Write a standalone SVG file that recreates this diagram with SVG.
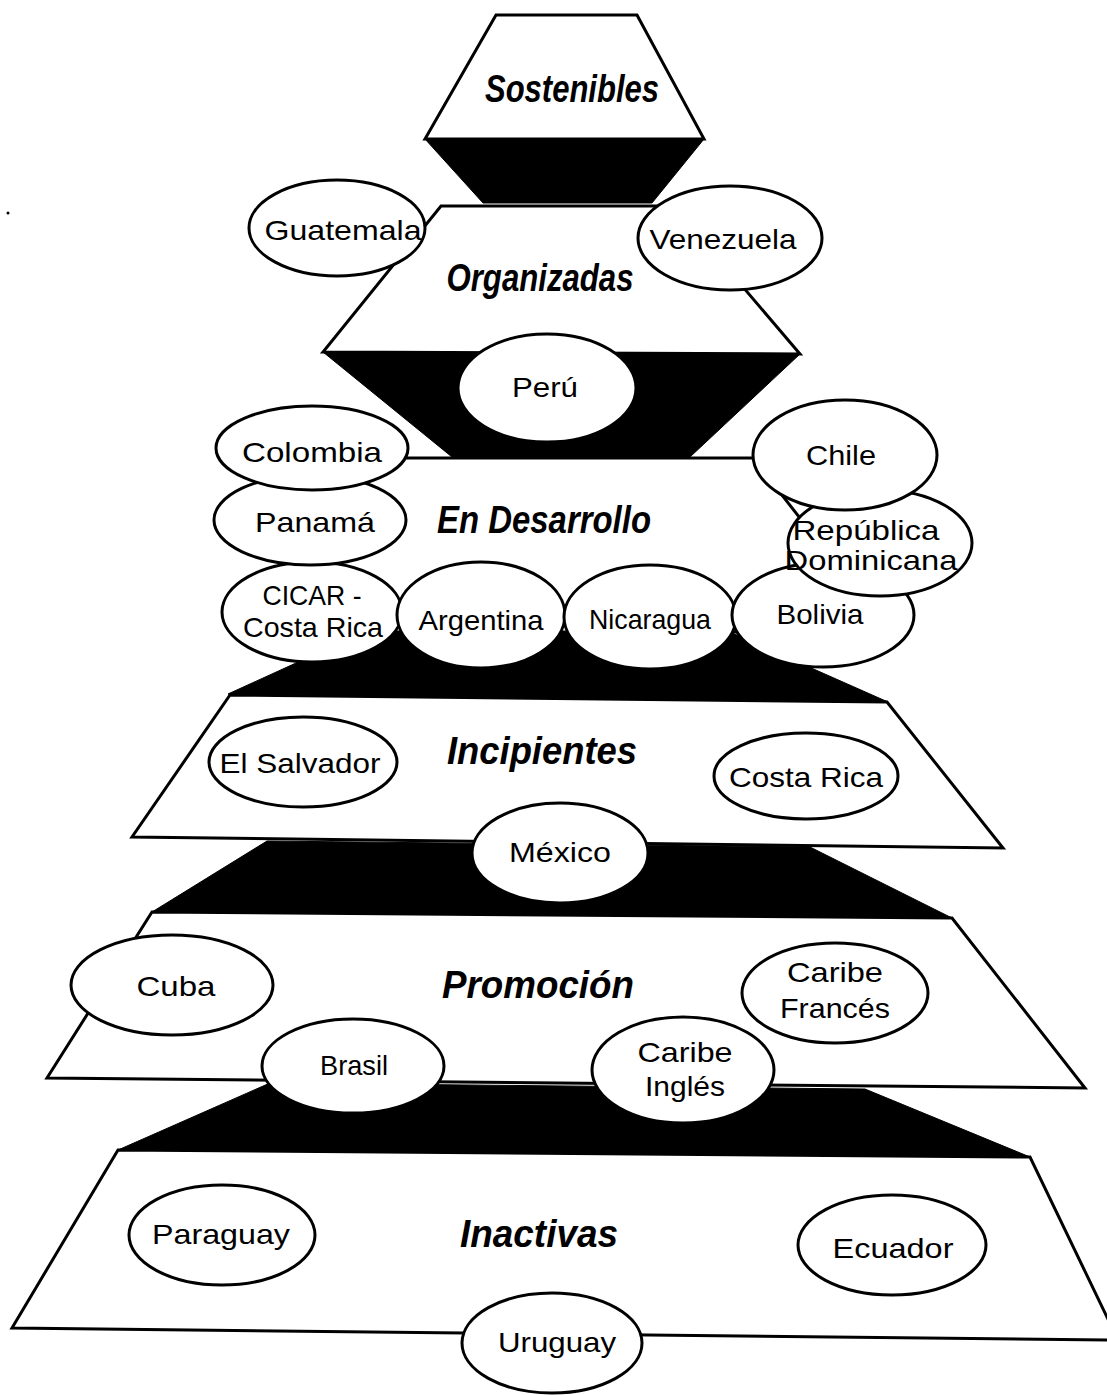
<svg xmlns="http://www.w3.org/2000/svg" width="1107" height="1395" viewBox="0 0 1107 1395">
  <style>
    .face { fill: #ffffff; stroke: #000000; stroke-width: 3; stroke-linejoin: miter; }
    .side { fill: #000000; stroke: #000000; stroke-width: 1; }
    .node ellipse { fill: #ffffff; stroke: #000000; stroke-width: 3; }
    .node text { font-family: "Liberation Sans", Arial, sans-serif; font-size: 28px; fill: #000000; text-anchor: middle; }
    .tier text { font-family: "Liberation Sans", Arial, sans-serif; font-size: 39px; font-weight: bold; font-style: italic; fill: #000000; text-anchor: middle; }
  </style>

  <rect width="1107" height="1395" fill="#ffffff"/>

  <!-- pyramid tiers: white top face and black side band -->
  <g id="tier-sostenibles" class="tier">
    <polygon class="face" points="496,15 637,15 704,139 425,139"/>
    <polygon class="side" points="425,139 704,139 652,203 483,203"/>
    <text x="572" y="102" textLength="174" lengthAdjust="spacingAndGlyphs">Sostenibles</text>
  </g>

  <g id="tier-en-desarrollo-face" class="tier">
    <polygon class="face" points="380,458 753,458 889,632 265,632"/>
  </g>

  <g id="tier-organizadas" class="tier">
    <polygon class="face" points="441,206 674,206 800,354 323,352"/>
    <polygon class="side" points="323,352 800,354 690,457 452,457"/>
    <text x="540" y="291" textLength="187" lengthAdjust="spacingAndGlyphs">Organizadas</text>
  </g>

  <g id="tier-en-desarrollo" class="tier">
    <polygon class="side" points="228,694 364,632 730,632 888,702"/>
    <text x="544" y="533" textLength="214" lengthAdjust="spacingAndGlyphs">En Desarrollo</text>
  </g>

  <g id="tier-incipientes" class="tier">
    <polygon class="face" points="230,695 887,702 1003,848 132,837"/>
    <polygon class="side" points="267,841 810,847 952,918 152,912"/>
    <text x="542" y="764" textLength="190" lengthAdjust="spacingAndGlyphs">Incipientes</text>
  </g>

  <g id="tier-promocion" class="tier">
    <polygon class="face" points="152,912 952,918 1085,1088 47,1078"/>
    <polygon class="side" points="270,1083 865,1089 1030,1157 118,1150"/>
    <text x="538" y="998" textLength="192" lengthAdjust="spacingAndGlyphs">Promoción</text>
  </g>

  <g id="tier-inactivas" class="tier">
    <polygon class="face" points="118,1150 1030,1157 1118,1340 12,1328"/>
    <text x="539" y="1247" textLength="158" lengthAdjust="spacingAndGlyphs">Inactivas</text>
  </g>

  <!-- country nodes -->
  <g id="node-guatemala" class="node">
    <ellipse cx="337" cy="228" rx="88" ry="48"/>
    <text x="343" y="240" textLength="157" lengthAdjust="spacingAndGlyphs">Guatemala</text>
  </g>
  <g id="node-venezuela" class="node">
    <ellipse cx="730" cy="238" rx="92" ry="52"/>
    <text x="723" y="249" textLength="147" lengthAdjust="spacingAndGlyphs">Venezuela</text>
  </g>
  <g id="node-peru" class="node">
    <ellipse cx="547" cy="388" rx="89" ry="54"/>
    <text x="545" y="397" textLength="66" lengthAdjust="spacingAndGlyphs">Perú</text>
  </g>

  <g id="node-cicar" class="node">
    <ellipse cx="312" cy="612" rx="90" ry="50"/>
    <text x="312" y="605" textLength="99" lengthAdjust="spacingAndGlyphs">CICAR -</text>
    <text x="313" y="637" textLength="140" lengthAdjust="spacingAndGlyphs">Costa Rica</text>
  </g>
  <g id="node-panama" class="node">
    <ellipse cx="310" cy="520" rx="96" ry="45"/>
    <text x="315" y="532" textLength="120" lengthAdjust="spacingAndGlyphs">Panamá</text>
  </g>
  <g id="node-colombia" class="node">
    <ellipse cx="312" cy="448" rx="96" ry="42"/>
    <text x="312" y="462" textLength="140" lengthAdjust="spacingAndGlyphs">Colombia</text>
  </g>
  <g id="node-argentina" class="node">
    <ellipse cx="481" cy="615" rx="84" ry="53"/>
    <text x="481" y="630" textLength="125" lengthAdjust="spacingAndGlyphs">Argentina</text>
  </g>
  <g id="node-nicaragua" class="node">
    <ellipse cx="650" cy="617" rx="86" ry="52"/>
    <text x="650" y="629" textLength="122" lengthAdjust="spacingAndGlyphs">Nicaragua</text>
  </g>
  <g id="node-bolivia" class="node">
    <ellipse cx="823" cy="615" rx="91" ry="52"/>
    <text x="820" y="624" textLength="87" lengthAdjust="spacingAndGlyphs">Bolivia</text>
  </g>
  <g id="node-republica-dominicana" class="node">
    <ellipse cx="880" cy="543" rx="92" ry="53"/>
    <text x="866" y="540" textLength="147" lengthAdjust="spacingAndGlyphs">República</text>
    <text x="871" y="570" textLength="173" lengthAdjust="spacingAndGlyphs">Dominicana</text>
  </g>
  <g id="node-chile" class="node">
    <ellipse cx="845" cy="455" rx="92" ry="55"/>
    <text x="841" y="465" textLength="70" lengthAdjust="spacingAndGlyphs">Chile</text>
  </g>

  <g id="node-el-salvador" class="node">
    <ellipse cx="303" cy="762" rx="94" ry="45"/>
    <text x="300" y="773" textLength="161" lengthAdjust="spacingAndGlyphs">El Salvador</text>
  </g>
  <g id="node-costa-rica" class="node">
    <ellipse cx="806" cy="776" rx="92" ry="43"/>
    <text x="806" y="787" textLength="154" lengthAdjust="spacingAndGlyphs">Costa Rica</text>
  </g>
  <g id="node-mexico" class="node">
    <ellipse cx="560" cy="853" rx="88" ry="50"/>
    <text x="560" y="862" textLength="102" lengthAdjust="spacingAndGlyphs">México</text>
  </g>

  <g id="node-cuba" class="node">
    <ellipse cx="172" cy="985" rx="101" ry="50"/>
    <text x="176" y="996" textLength="79" lengthAdjust="spacingAndGlyphs">Cuba</text>
  </g>
  <g id="node-caribe-frances" class="node">
    <ellipse cx="835" cy="993" rx="93" ry="50"/>
    <text x="835" y="982" textLength="96" lengthAdjust="spacingAndGlyphs">Caribe</text>
    <text x="835" y="1018" textLength="110" lengthAdjust="spacingAndGlyphs">Francés</text>
  </g>
  <g id="node-brasil" class="node">
    <ellipse cx="353" cy="1066" rx="91" ry="47"/>
    <text x="354" y="1075" textLength="68" lengthAdjust="spacingAndGlyphs">Brasil</text>
  </g>
  <g id="node-caribe-ingles" class="node">
    <ellipse cx="683" cy="1070" rx="91" ry="53"/>
    <text x="685" y="1062" textLength="95" lengthAdjust="spacingAndGlyphs">Caribe</text>
    <text x="685" y="1096" textLength="80" lengthAdjust="spacingAndGlyphs">Inglés</text>
  </g>

  <g id="node-paraguay" class="node">
    <ellipse cx="222" cy="1235" rx="93" ry="50"/>
    <text x="221" y="1244" textLength="138" lengthAdjust="spacingAndGlyphs">Paraguay</text>
  </g>
  <g id="node-ecuador" class="node">
    <ellipse cx="892" cy="1245" rx="94" ry="50"/>
    <text x="893" y="1258" textLength="121" lengthAdjust="spacingAndGlyphs">Ecuador</text>
  </g>
  <g id="node-uruguay" class="node">
    <ellipse cx="552" cy="1343" rx="90" ry="50"/>
    <text x="557" y="1352" textLength="118" lengthAdjust="spacingAndGlyphs">Uruguay</text>
  </g>

  <!-- small ink speck at the left margin -->
  <circle cx="8" cy="213" r="1.5" fill="#000000"/>
</svg>
